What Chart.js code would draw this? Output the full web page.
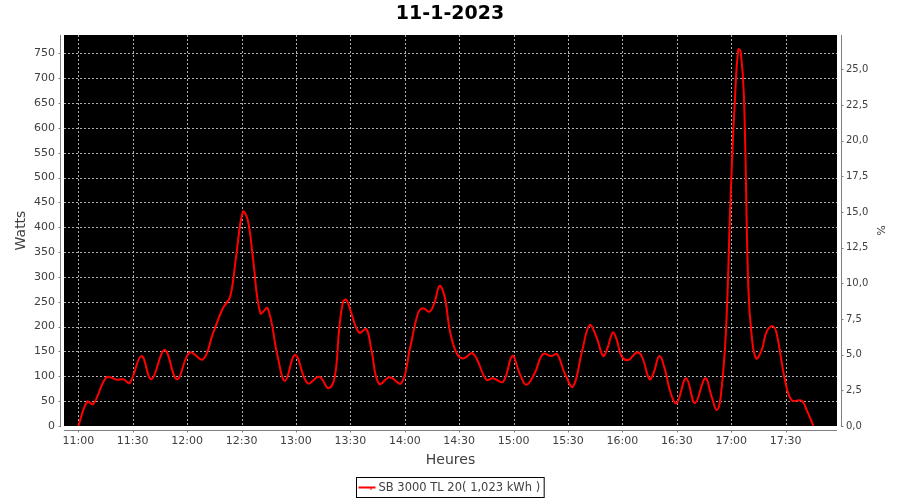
<!DOCTYPE html>
<html><head><meta charset="utf-8">
<script src="https://cdn.jsdelivr.net/npm/chart.js@4/dist/chart.umd.min.js"></script>
<style>html,body{margin:0;padding:0;background:#fff;}</style>
</head><body>
<canvas id="c" width="900" height="500"></canvas>
<script>
const chartTitle = '11-1-2023';
const seriesLabel = 'SB 3000 TL 20( 1,023 kWh )';
const xAxisTitle = 'Heures';
const yAxisTitle = 'Watts';
const y2AxisTitle = '%';
const startHour = 11;
// minutes after 11:00
const minutes = [0,4.9,8.2,15.6,21.1,24.7,28.4,34.8,40.3,47.6,54.4,61.4,68.7,74.2,79.7,83.7,87.0,90.7,93.4,96.2,100.4,104.4,109.9,114.0,119.6,126.4,132.8,138.0,
141.4,143.8,146,147.8,150,154.8,158.8,161.6,165.8,171.7,178.1,182.7,187.3,190.1,193.7,196.5,199.2,202,204.8,208.4,212.1,217.6,225,228.6,234.2,239.3,243.3,247,251.6,256.2,260.8,263.9,268.2,272.7,277.9,281.9,285.6,289.3,
291.4,294.7,296.9,299.6,303.3,307.9,310.7,314.9,317.1,320.4,323.5,326.6,329.9,335.1,340,345.6,349.2,352,354.2,357.1,359.7,362.1,363.9,365.2,367,369.4,371.3,373.7,376.8,379.5,382.8,385,389.6,393.3,398.8,401.6,405.3];
const watts = [0,49,44,98,93,94,87,141,94,153,94,148,134,186,237,260,341,431,415,341,227,237,140,91,143,86,99,76,
99,193,250,254,233,188,195,153,85,98,86,153,227,237,230,250,282,260,193,148,136,146,93,96,89,141,106,83,106,145,141,145,106,79,153,203,180,141,
153,188,173,140,133,148,140,94,106,141,113,66,46,96,46,96,59,32,59,193,468,663,758,753,663,280,180,136,153,190,201,186,93,52,51,32,0];
const xTicks = [0,30,60,90,120,150,180,210,240,270,300,330,360,390];
const wattTicks = [0,50,100,150,200,250,300,350,400,450,500,550,600,650,700,750];
const pctTicks = [0,2.5,5,7.5,10,12.5,15,17.5,20,22.5,25];

const FONT = 'DejaVu Sans';
const TXT = '#404040';

function fmtTime(v){
  const h = startHour + Math.floor(v/60);
  const m = Math.round(v - Math.floor(v/60)*60);
  return h + ':' + String(m).padStart(2,'0');
}

const jfree = {
  id: 'jfree',
  beforeDraw(chart){
    const {ctx, chartArea:a} = chart;
    ctx.save();
    ctx.fillStyle = '#000';
    ctx.fillRect(a.left, a.top, a.right-a.left, a.bottom-a.top);
    ctx.restore();
  },
  beforeDatasetsDraw(chart){
    const {ctx, chartArea:a, scales} = chart;
    ctx.save();
    ctx.beginPath();
    ctx.rect(a.left, a.top, a.right-a.left, a.bottom-a.top);
    ctx.clip();
    ctx.strokeStyle = '#b0b0b0';
    ctx.lineWidth = 1;
    ctx.setLineDash([2,2]);
    scales.x.ticks.forEach(t => {
      const p = Math.round(scales.x.getPixelForValue(t.value)) + 0.5;
      ctx.beginPath(); ctx.moveTo(p, a.top); ctx.lineTo(p, a.bottom); ctx.stroke();
    });
    scales.y.ticks.forEach(t => {
      const p = Math.round(scales.y.getPixelForValue(t.value)) + 0.5;
      ctx.beginPath(); ctx.moveTo(a.left, p); ctx.lineTo(a.right, p); ctx.stroke();
    });
    ctx.restore();
  },
  afterDraw(chart){
    const {ctx, chartArea:a, scales} = chart;
    ctx.save();
    ctx.strokeStyle = '#808080';
    ctx.lineWidth = 1;
    ctx.setLineDash([]);
    // left axis
    const lx = a.left - 3.5;
    ctx.beginPath(); ctx.moveTo(lx, a.top); ctx.lineTo(lx, a.bottom+1); ctx.stroke();
    scales.y.ticks.forEach(t => {
      const p = Math.round(scales.y.getPixelForValue(t.value)) + 0.5;
      ctx.beginPath(); ctx.moveTo(lx-2, p); ctx.lineTo(lx, p); ctx.stroke();
    });
    // right axis
    const rx = a.right + 4.5;
    ctx.beginPath(); ctx.moveTo(rx, a.top); ctx.lineTo(rx, a.bottom+1); ctx.stroke();
    scales.y2.ticks.forEach(t => {
      const p = Math.round(scales.y2.getPixelForValue(t.value)) + 0.5;
      ctx.beginPath(); ctx.moveTo(rx, p); ctx.lineTo(rx+2, p); ctx.stroke();
    });
    // bottom axis
    const by = a.bottom + 4.5;
    ctx.beginPath(); ctx.moveTo(a.left, by); ctx.lineTo(a.right, by); ctx.stroke();
    scales.x.ticks.forEach(t => {
      const p = Math.round(scales.x.getPixelForValue(t.value)) + 0.5;
      ctx.beginPath(); ctx.moveTo(p, by); ctx.lineTo(p, by+2); ctx.stroke();
    });
    // legend
    const ds = chart.data.datasets[0];
    ctx.font = '11.5px "' + FONT + '"';
    const tw = ctx.measureText(ds.label).width;
    const lineW = 17, gap = 3, padL = 2, padR = 4;
    const boxW = padL + lineW + gap + tw + padR;
    const boxH = 20;
    const bx = Math.round(chart.width/2 - boxW/2) + 0.5;
    const byy = 477.5;
    ctx.strokeStyle = '#000';
    ctx.strokeRect(bx, byy, boxW, boxH);
    const cy = byy + boxH/2;
    ctx.strokeStyle = ds.borderColor;
    ctx.lineWidth = 2;
    ctx.beginPath(); ctx.moveTo(bx+padL, cy); ctx.lineTo(bx+padL+lineW, cy); ctx.stroke();
    ctx.lineWidth = 1;
    ctx.beginPath(); ctx.moveTo(bx+padL+lineW/2+4, cy); ctx.lineTo(bx+padL+lineW/2+4, cy+2.5); ctx.stroke();
    ctx.fillStyle = TXT;
    ctx.textBaseline = 'middle';
    ctx.textAlign = 'left';
    ctx.fillText(ds.label, bx+padL+lineW+gap, cy+0.5);
    ctx.restore();
  }
};

new Chart(document.getElementById('c'), {
  type: 'line',
  data: {
    datasets: [{
      label: seriesLabel,
      data: minutes.map((m,i) => ({x:m, y:watts[i]})),
      borderColor: '#ff0000',
      backgroundColor: '#ff0000',
      borderWidth: 2,
      pointRadius: 0,
      tension: 0.4,
      fill: false,
      yAxisID: 'y'
    }]
  },
  options: {
    responsive: false,
    animation: false,
    devicePixelRatio: 1,
    layout: {padding: {left:0, right:0, top:0, bottom:31}},
    plugins: {
      legend: {display:false},
      tooltip: {enabled:false},
      title: {display:true, text: chartTitle, color:'#000',
        font:{family:FONT, size:19, weight:'bold'}, padding:{top:3, bottom:9.2}}
    },
    scales: {
      x: {
        type:'linear', min:-7.88, max:418.3,
        grid:{display:false, drawTicks:false}, border:{display:false},
        afterBuildTicks: s => { s.ticks = xTicks.map(v => ({value:v})); },
        ticks:{callback: v => fmtTime(v), font:{family:FONT, size:11}, color:TXT, padding:8.5, maxRotation:0, autoSkip:false},
        title:{display:true, text:xAxisTitle, font:{family:FONT, size:14}, color:TXT, padding:{top:0,bottom:0}},
        afterFit: s => { s.height = 43; }
      },
      y: {
        position:'left', min:0, max:787,
        grid:{display:false, drawTicks:false}, border:{display:false},
        afterBuildTicks: s => { s.ticks = wattTicks.map(v => ({value:v})); },
        ticks:{font:{family:FONT, size:11}, color:TXT, padding:9, autoSkip:false},
        title:{display:true, text:yAxisTitle, font:{family:FONT, size:14}, color:TXT, padding:{top:13,bottom:0}},
        afterFit: s => { s.width = 64; }
      },
      y2: {
        position:'right', min:0, max:27.4,
        grid:{display:false, drawTicks:false}, border:{display:false},
        afterBuildTicks: s => { s.ticks = pctTicks.map(v => ({value:v})); },
        ticks:{callback: v => v.toFixed(1).replace('.', ','), font:{family:FONT, size:10}, color:TXT, padding:9, autoSkip:false},
        title:{display:true, text:y2AxisTitle, font:{family:FONT, size:11}, color:TXT, padding:{top:14,bottom:0}},
        afterFit: s => { s.width = 63; }
      }
    }
  },
  plugins: [jfree]
});
</script>
</body></html>
